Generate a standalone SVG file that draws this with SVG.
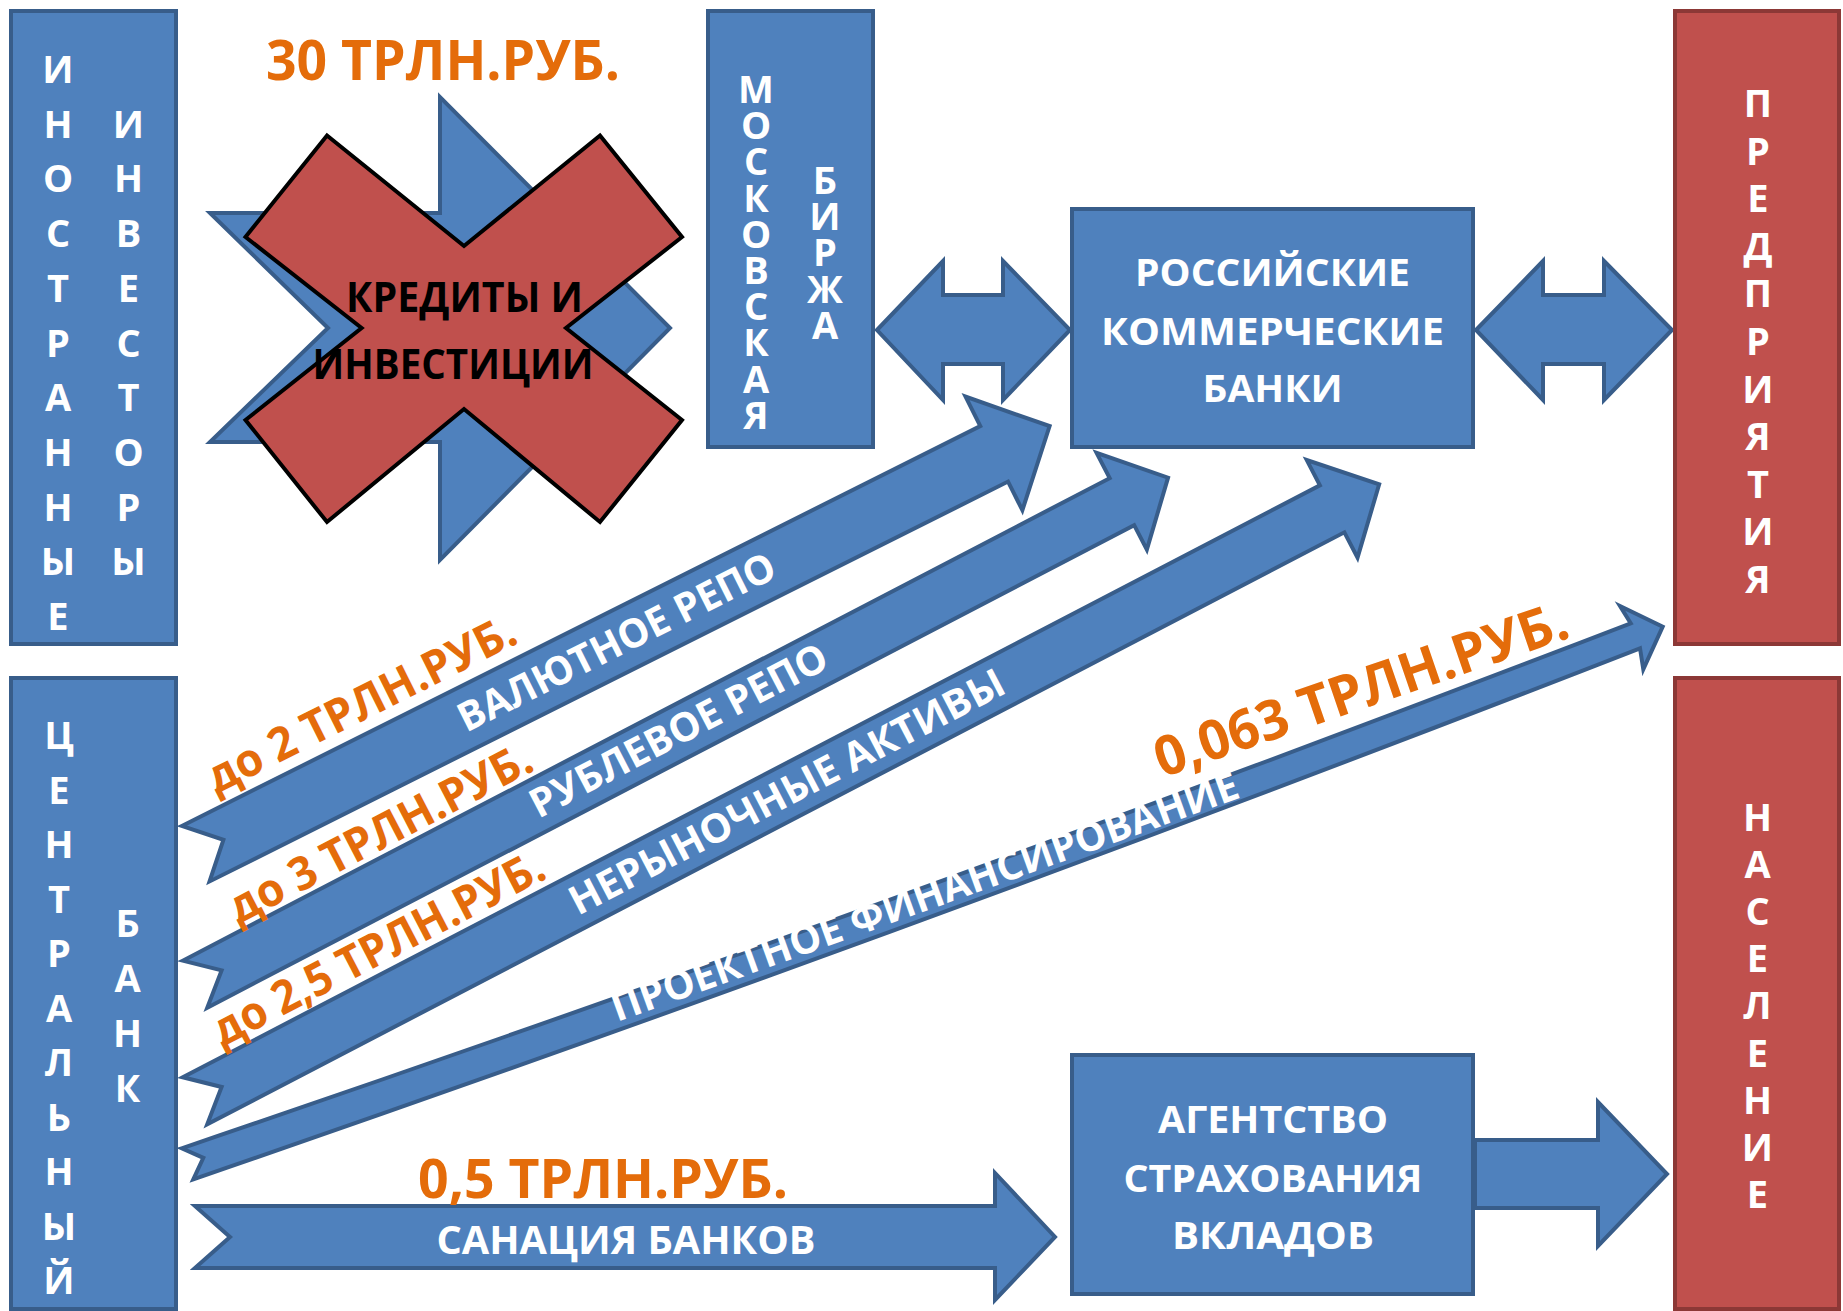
<svg xmlns="http://www.w3.org/2000/svg" width="1843" height="1311" viewBox="0 0 1843 1311">
<style>
text{font-family:"Open Sans","Liberation Sans",sans-serif;font-weight:700}
.bf{fill:#4F81BD;stroke:#385D8A;stroke-width:4;stroke-linejoin:miter}
.rf{fill:#C0504D;stroke:#8C3836;stroke-width:4}
.v{font-size:38px;fill:#fff;text-anchor:middle}
.w{font-size:38px;fill:#fff;text-anchor:middle}
.d{font-size:40px;fill:#fff}
.o{fill:#E46C0A}
</style>
<rect width="1843" height="1311" fill="#fff"/>
<g id="connectors">
<path class="bf" d="M877,330 L943,261 L943,295 L1003,295 L1003,261 L1070,330 L1003,400 L1003,364 L943,364 L943,400 Z"/>
<path class="bf" d="M1476,330 L1543,261 L1543,295 L1604,295 L1604,261 L1672,330 L1604,400 L1604,364 L1543,364 L1543,400 Z"/>
<path class="bf" d="M1475,1140 L1598,1140 L1598,1102 L1667,1174 L1598,1246 L1598,1208 L1475,1208 Z"/>
<path class="bf" d="M195,1206 L995,1206 L995,1173 L1055,1237 L995,1300 L995,1268 L195,1268 L230,1237 Z"/>
<text class="w" x="626" y="1254" textLength="379" lengthAdjust="spacingAndGlyphs" style="font-size:39px">САНАЦИЯ БАНКОВ</text>
<text class="o" x="603" y="1198" text-anchor="middle" textLength="370" lengthAdjust="spacingAndGlyphs" style="font-size:54px">0,5 ТРЛН.РУБ.</text>
<path class="bf" d="M181.7,1148.3 Q906,902 1630.7,623.3 L1620,606 L1662.7,626.7 L1643.3,669.3 L1640,648.3 Q917,930 193.3,1179.3 L203.3,1157.8 Z"/>
<text class="d" transform="translate(617,1022) rotate(-19.8)" textLength="664" lengthAdjust="spacingAndGlyphs">ПРОЕКТНОЕ ФИНАНСИРОВАНИЕ</text>
<text class="o" transform="translate(1162,778) rotate(-19)" textLength="434" lengthAdjust="spacingAndGlyphs" style="font-size:55px">0,063 ТРЛН.РУБ.</text>
<g transform="translate(195,1100.8) rotate(-27.5)">
<path class="bf" d="M0,-26.5 L1282,-26.5 L1282,-55 L1335,0 L1282,55 L1282,26.5 L0,26.5 L30,0 Z"/>
<text class="d" x="425" y="13" textLength="485" lengthAdjust="spacingAndGlyphs">НЕРЫНОЧНЫЕ АКТИВЫ</text>
<text class="o" x="49" y="-35" textLength="368" lengthAdjust="spacingAndGlyphs" style="font-size:46px">до 2,5 ТРЛН.РУБ.</text>
</g>
<g transform="translate(195,984.2) rotate(-27.5)">
<path class="bf" d="M0,-26.5 L1045,-26.5 L1045,-55 L1097,0 L1045,54 L1045,26.5 L0,26.5 L30,0 Z"/>
<text class="d" x="381" y="12" textLength="330" lengthAdjust="spacingAndGlyphs">РУБЛЕВОЕ РЕПО</text>
<text class="o" x="66" y="-33" textLength="336" lengthAdjust="spacingAndGlyphs" style="font-size:46px">до 3 ТРЛН.РУБ.</text>
</g>
<g transform="translate(195.7,853.7) rotate(-26.6)">
<path class="bf" d="M0,-31 L893,-31 L893,-64 L955,0 L893,63 L893,31 L0,31 L31,0 Z"/>
<text class="d" x="296" y="13" textLength="350" lengthAdjust="spacingAndGlyphs">ВАЛЮТНОЕ РЕПО</text>
<text class="o" x="45" y="-44" textLength="340" lengthAdjust="spacingAndGlyphs" style="font-size:46px">до 2 ТРЛН.РУБ.</text>
</g>
</g>
<g id="foreign-investors">
<rect class="bf" x="11" y="11" width="165" height="633"/>
<text class="v"><tspan x="58" y="83">И</tspan><tspan x="58" dy="54.7">Н</tspan><tspan x="58" dy="54.7">О</tspan><tspan x="58" dy="54.7">С</tspan><tspan x="58" dy="54.7">Т</tspan><tspan x="58" dy="54.7">Р</tspan><tspan x="58" dy="54.7">А</tspan><tspan x="58" dy="54.7">Н</tspan><tspan x="58" dy="54.7">Н</tspan><tspan x="58" dy="54.7">Ы</tspan><tspan x="58" dy="54.7">Е</tspan></text>
<text class="v"><tspan x="128.5" y="137.7">И</tspan><tspan x="128.5" dy="54.7">Н</tspan><tspan x="128.5" dy="54.7">В</tspan><tspan x="128.5" dy="54.7">Е</tspan><tspan x="128.5" dy="54.7">С</tspan><tspan x="128.5" dy="54.7">Т</tspan><tspan x="128.5" dy="54.7">О</tspan><tspan x="128.5" dy="54.7">Р</tspan><tspan x="128.5" dy="54.7">Ы</tspan></text>
</g>
<g id="credits">
<text class="o" x="443" y="80" text-anchor="middle" textLength="354" lengthAdjust="spacingAndGlyphs" style="font-size:56px">30 ТРЛН.РУБ.</text>
<path class="bf" d="M210,213 L440,213 L440,97 L670,328 L440,560 L440,442 L210,442 L328,328 Z"/>
<path fill="#C0504D" stroke="#000" stroke-width="4" d="M327,135.5 L464,246 L600,135.5 L682,237 L566,328 L682,420 L600,522 L464,409 L327,522 L245.5,420 L361.6,328 L245.5,237 Z"/>
<text x="464.5" y="312" text-anchor="middle" textLength="237" lengthAdjust="spacingAndGlyphs" style="font-size:41px" fill="#000">КРЕДИТЫ И</text>
<text x="453" y="379" text-anchor="middle" textLength="281" lengthAdjust="spacingAndGlyphs" style="font-size:41px" fill="#000">ИНВЕСТИЦИИ</text>
</g>
<g id="moex">
<rect class="bf" x="708" y="11" width="165" height="436"/>
<text class="v"><tspan x="756" y="103">М</tspan><tspan x="756" dy="36.2">О</tspan><tspan x="756" dy="36.2">С</tspan><tspan x="756" dy="36.2">К</tspan><tspan x="756" dy="36.2">О</tspan><tspan x="756" dy="36.2">В</tspan><tspan x="756" dy="36.2">С</tspan><tspan x="756" dy="36.2">К</tspan><tspan x="756" dy="36.2">А</tspan><tspan x="756" dy="36.2">Я</tspan></text>
<text class="v"><tspan x="825" y="194">Б</tspan><tspan x="825" dy="36.2">И</tspan><tspan x="825" dy="36.2">Р</tspan><tspan x="825" dy="36.2">Ж</tspan><tspan x="825" dy="36.2">А</tspan></text>
</g>
<g id="russian-banks">
<rect class="bf" x="1072" y="209" width="401" height="238"/>
<text class="w" x="1272.5" y="286" textLength="275" lengthAdjust="spacingAndGlyphs">РОССИЙСКИЕ</text>
<text class="w" x="1272.5" y="345" textLength="343" lengthAdjust="spacingAndGlyphs">КОММЕРЧЕСКИЕ</text>
<text class="w" x="1272.5" y="402" textLength="140" lengthAdjust="spacingAndGlyphs">БАНКИ</text>
</g>
<g id="enterprises">
<rect class="rf" x="1675" y="11" width="164" height="633"/>
<text class="v"><tspan x="1758" y="117">П</tspan><tspan x="1758" dy="47.6">Р</tspan><tspan x="1758" dy="47.6">Е</tspan><tspan x="1758" dy="47.6">Д</tspan><tspan x="1758" dy="47.6">П</tspan><tspan x="1758" dy="47.6">Р</tspan><tspan x="1758" dy="47.6">И</tspan><tspan x="1758" dy="47.6">Я</tspan><tspan x="1758" dy="47.6">Т</tspan><tspan x="1758" dy="47.6">И</tspan><tspan x="1758" dy="47.6">Я</tspan></text>
</g>
<g id="central-bank">
<rect class="bf" x="11" y="678" width="165" height="631"/>
<text class="v"><tspan x="59" y="749">Ц</tspan><tspan x="59" dy="54.5">Е</tspan><tspan x="59" dy="54.5">Н</tspan><tspan x="59" dy="54.5">Т</tspan><tspan x="59" dy="54.5">Р</tspan><tspan x="59" dy="54.5">А</tspan><tspan x="59" dy="54.5">Л</tspan><tspan x="59" dy="54.5">Ь</tspan><tspan x="59" dy="54.5">Н</tspan><tspan x="59" dy="54.5">Ы</tspan><tspan x="59" dy="54.5">Й</tspan></text>
<text class="v"><tspan x="127.6" y="937">Б</tspan><tspan x="127.6" dy="55">А</tspan><tspan x="127.6" dy="55">Н</tspan><tspan x="127.6" dy="55">К</tspan></text>
</g>
<g id="dia">
<rect class="bf" x="1072" y="1055" width="401" height="239"/>
<text class="w" x="1273" y="1133" textLength="230" lengthAdjust="spacingAndGlyphs">АГЕНТСТВО</text>
<text class="w" x="1273" y="1192" textLength="299" lengthAdjust="spacingAndGlyphs">СТРАХОВАНИЯ</text>
<text class="w" x="1273" y="1249" textLength="202" lengthAdjust="spacingAndGlyphs">ВКЛАДОВ</text>
</g>
<g id="population">
<rect class="rf" x="1675" y="678" width="164" height="631"/>
<text class="v"><tspan x="1757.5" y="831">Н</tspan><tspan x="1757.5" dy="47.1">А</tspan><tspan x="1757.5" dy="47.1">С</tspan><tspan x="1757.5" dy="47.1">Е</tspan><tspan x="1757.5" dy="47.1">Л</tspan><tspan x="1757.5" dy="47.1">Е</tspan><tspan x="1757.5" dy="47.1">Н</tspan><tspan x="1757.5" dy="47.1">И</tspan><tspan x="1757.5" dy="47.1">Е</tspan></text>
</g>
</svg>
